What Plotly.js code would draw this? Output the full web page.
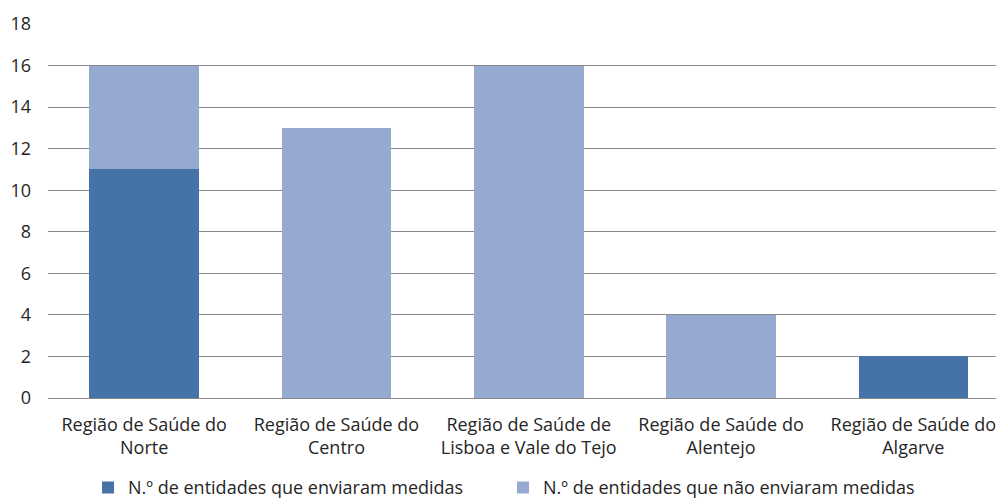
<!DOCTYPE html>
<html>
<head>
<meta charset="utf-8">
<script src="https://cdn.plot.ly/plotly-3.0.1.min.js"></script>
<style>html,body{margin:0;padding:0;background:#fff;}#chart{width:996px;height:503px;}</style>
</head>
<body>
<div id="chart"></div>
<script>
const categories = [
  "Região de Saúde do<br>Norte",
  "Região de Saúde do<br>Centro",
  "Região de Saúde de<br>Lisboa e Vale do Tejo",
  "Região de Saúde do<br>Alentejo",
  "Região de Saúde do<br>Algarve"
];
const seriesNames = [
  "N.º de entidades que enviaram medidas",
  "N.º de entidades que não enviaram medidas"
];
const sentValues = [11, 0, 0, 0, 2];
const notSentValues = [5, 13, 16, 4, 0];
const yTicks = [0, 2, 4, 6, 8, 10, 12, 14, 16, 18];

const font = {family: "'Open Sans', 'Liberation Sans', sans-serif", size: 18, color: "#262626"};

const traces = [
  {type: "bar", name: seriesNames[0], x: [0,1,2,3,4], y: sentValues,
   marker: {color: "#4573A7"}, hoverinfo: "y"},
  {type: "bar", name: seriesNames[1], x: [0,1,2,3,4], y: notSentValues,
   marker: {color: "#95A9D1"}, hoverinfo: "y"}
];

const layout = {
  width: 996, height: 503,
  margin: {l: 48, r: 0, t: 24, b: 105, autoexpand: false},
  barmode: "stack",
  bargap: 0.43,
  font: font,
  paper_bgcolor: "#fff",
  plot_bgcolor: "#fff",
  showlegend: true,
  legend: {orientation: "h", x: 0.48, xanchor: "center", y: -0.24, yanchor: "middle",
           font: font, traceorder: "normal", entrywidth: 370, itemwidth: 30,
           borderwidth: 0, bgcolor: "rgba(0,0,0,0)"},
  xaxis: {
    range: [-0.5, 4.43], tickmode: "array", tickvals: [0,1,2,3,4], ticktext: categories,
    showgrid: false, zeroline: false, showline: true, linecolor: "#8a8a8a", linewidth: 1,
    ticks: "", ticklabelstandoff: 10, ticklabeloverflow: "allow",
    fixedrange: true, automargin: false
  },
  yaxis: {
    range: [0, 18], tickmode: "array", tickvals: yTicks,
    showgrid: true, gridcolor: "#8a8a8a", gridwidth: 1, zeroline: false,
    showline: false, ticks: "", ticklabelstandoff: 16, automargin: false, fixedrange: true
  }
};

Plotly.newPlot("chart", traces, layout, {displayModeBar: false, staticPlot: true});
</script>
</body>
</html>
